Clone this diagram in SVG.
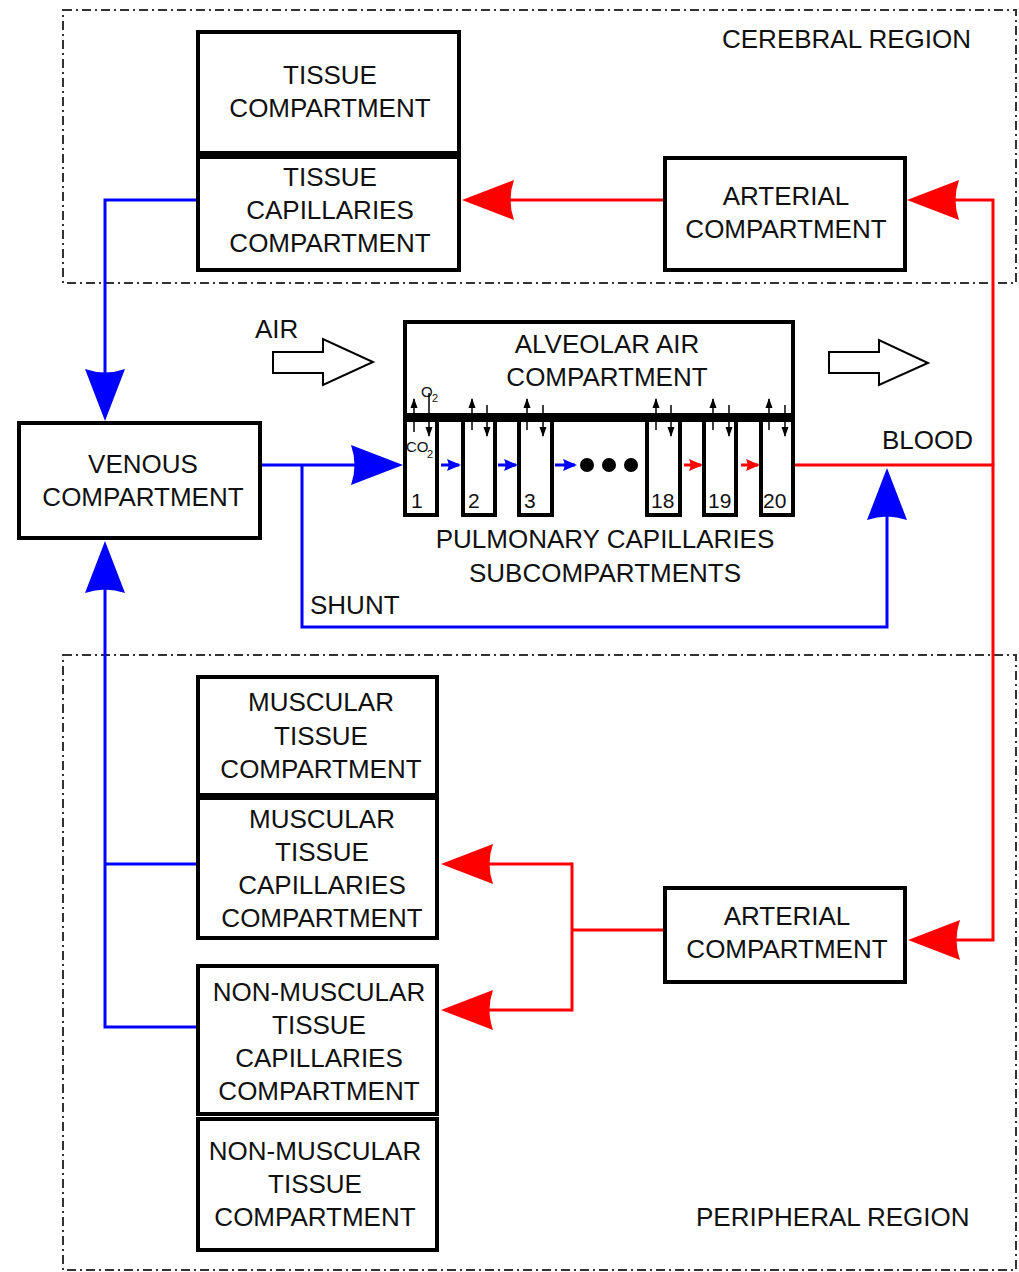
<svg xmlns="http://www.w3.org/2000/svg" width="1019" height="1272" viewBox="0 0 1019 1272">
<style>
.t{font-family:"Liberation Sans",Arial,sans-serif;font-size:26px;fill:#111;text-anchor:middle}
.tl{font-family:"Liberation Sans",Arial,sans-serif;font-size:26px;fill:#111}
.n{font-family:"Liberation Sans",Arial,sans-serif;font-size:21px;fill:#111}
.s{font-family:"Liberation Sans",Arial,sans-serif;font-size:15px;fill:#111}
.ss{font-family:"Liberation Sans",Arial,sans-serif;font-size:11px;fill:#111}
.box{fill:#fff;stroke:#000;stroke-width:4}
.reg{fill:none;stroke:#333;stroke-width:2;stroke-dasharray:9 4 2 4}
.b{fill:none;stroke:#0000ff;stroke-width:3}
.r{fill:none;stroke:#ff0000;stroke-width:3}
.k{fill:none;stroke:#000;stroke-width:1.5}
.open{fill:#fff;stroke:#000;stroke-width:2}
</style>
<defs>
<marker id="ab" markerUnits="userSpaceOnUse" viewBox="-56 -22 80 44" markerWidth="80" markerHeight="44" refX="-20" refY="0" orient="auto"><path d="M0,0 L-52,-20 Q-45,0 -52,20 Z" fill="#0000ff"/></marker>
<marker id="ar" markerUnits="userSpaceOnUse" viewBox="-56 -22 80 44" markerWidth="80" markerHeight="44" refX="-20" refY="0" orient="auto"><path d="M0,0 L-52,-20 Q-45,0 -52,20 Z" fill="#ff0000"/></marker>
<marker id="sb" markerUnits="userSpaceOnUse" viewBox="-16 -8 20 16" markerWidth="20" markerHeight="16" refX="-2" refY="0" orient="auto"><path d="M0,0 L-14,-6 Q-11,0 -14,6 Z" fill="#0000ff"/></marker>
<marker id="sr" markerUnits="userSpaceOnUse" viewBox="-16 -8 20 16" markerWidth="20" markerHeight="16" refX="-2" refY="0" orient="auto"><path d="M0,0 L-14,-6 Q-11,0 -14,6 Z" fill="#ff0000"/></marker>
<marker id="sk" markerUnits="userSpaceOnUse" viewBox="-11 -5 12 10" markerWidth="12" markerHeight="10" refX="-1" refY="0" orient="auto"><path d="M0,0 L-10,-3.5 L-10,3.5 Z" fill="#000"/></marker>
</defs>
<rect width="1019" height="1272" fill="#fff"/>

<g id="cerebral-region">
<rect class="reg" x="63" y="10" width="953" height="273"/>
<text class="tl" x="722" y="48">CEREBRAL REGION</text>
</g>
<g id="peripheral-region">
<rect class="reg" x="63" y="655" width="953" height="615"/>
<text class="tl" x="696" y="1226">PERIPHERAL REGION</text>
</g>

<g id="connectors">
<path class="b" d="M197,200 H105 V401" marker-end="url(#ab)"/>
<path class="b" d="M197,864 H105"/>
<path class="b" d="M197,1027 H105 V561" marker-end="url(#ab)"/>
<path class="b" d="M262,465 H383" marker-end="url(#ab)"/>
<path class="b" d="M302,465 V627 H887 V488" marker-end="url(#ab)"/>
<path class="r" d="M993,465 V200 H927" marker-end="url(#ar)"/>
<path class="r" d="M795,465 H993 V940 H928" marker-end="url(#ar)"/>
<path class="r" d="M664,200 H482" marker-end="url(#ar)"/>
<path class="r" d="M664,930 H572"/>
<path class="r" d="M572,864 H461" marker-end="url(#ar)"/>
<path class="r" d="M572,862.5 V1011.5"/>
<path class="r" d="M572,1010 H461" marker-end="url(#ar)"/>
<path class="b" d="M441,465 H459" marker-end="url(#sb)"/>
<path class="b" d="M498,465 H516" marker-end="url(#sb)"/>
<path class="b" d="M555,465 H575" marker-end="url(#sb)"/>
<path class="r" d="M684,465 H701" marker-end="url(#sr)"/>
<path class="r" d="M741,465 H758" marker-end="url(#sr)"/>
</g>

<g id="tissue-compartment">
<rect class="box" x="198" y="32" width="261" height="121"/>
<text class="t" x="330" y="84">TISSUE</text>
<text class="t" x="330" y="117">COMPARTMENT</text>
</g>
<g id="tissue-capillaries-compartment">
<rect class="box" x="198" y="157" width="261" height="113"/>
<text class="t" x="330" y="186">TISSUE</text>
<text class="t" x="330" y="219">CAPILLARIES</text>
<text class="t" x="330" y="252">COMPARTMENT</text>
</g>
<g id="arterial-compartment-cerebral">
<rect class="box" x="665" y="158" width="240" height="112"/>
<text class="t" x="786" y="205">ARTERIAL</text>
<text class="t" x="786" y="238">COMPARTMENT</text>
</g>

<g id="air-in">
<text class="tl" x="255" y="338">AIR</text>
<path class="open" d="M273,352 H323 V339 L373,362 L323,385 V373 H273 Z"/>
</g>
<g id="air-out">
<path class="open" d="M829,352 H879 V340 L928,363 L879,385 V373 H829 Z"/>
</g>

<g id="alveolar-air-compartment">
<rect class="box" x="405" y="322" width="388" height="94"/>
<rect x="403" y="413" width="392" height="9" fill="#000"/>
<text class="t" x="607" y="353">ALVEOLAR AIR</text>
<text class="t" x="607" y="386">COMPARTMENT</text>
</g>

<g id="venous-compartment">
<rect class="box" x="19" y="423" width="241" height="115"/>
<text class="t" x="143" y="473">VENOUS</text>
<text class="t" x="143" y="506">COMPARTMENT</text>
</g>

<g id="pulmonary-capillaries">
<rect class="box" x="405" y="420" width="32" height="95"/>
<rect class="box" x="463" y="420" width="32" height="95"/>
<rect class="box" x="519" y="420" width="33" height="95"/>
<rect class="box" x="647" y="420" width="33" height="95"/>
<rect class="box" x="704" y="420" width="32" height="95"/>
<rect class="box" x="761" y="420" width="32" height="95"/>
<text class="n" x="411" y="508">1</text>
<text class="n" x="468" y="508">2</text>
<text class="n" x="524" y="508">3</text>
<text class="n" x="651" y="508">18</text>
<text class="n" x="708" y="508">19</text>
<text class="n" x="763" y="508">20</text>
<text class="s" x="421" y="397">O</text>
<text class="ss" x="432" y="402">2</text>
<text class="s" x="406" y="452">CO</text>
<text class="ss" x="427" y="458">2</text>
<circle cx="587" cy="465" r="7" fill="#000"/>
<circle cx="609" cy="465" r="7" fill="#000"/>
<circle cx="631" cy="465" r="7" fill="#000"/>
<text class="t" x="605" y="548">PULMONARY CAPILLARIES</text>
<text class="t" x="605" y="582">SUBCOMPARTMENTS</text>
</g>

<g id="gas-exchange-arrows">
<path class="k" d="M414,432 V399" marker-end="url(#sk)"/>
<path class="k" d="M429,393 V436" marker-end="url(#sk)"/>
<path class="k" d="M472,430 V399" marker-end="url(#sk)"/>
<path class="k" d="M487,405 V436" marker-end="url(#sk)"/>
<path class="k" d="M527,430 V399" marker-end="url(#sk)"/>
<path class="k" d="M543,405 V436" marker-end="url(#sk)"/>
<path class="k" d="M656,430 V399" marker-end="url(#sk)"/>
<path class="k" d="M671,405 V436" marker-end="url(#sk)"/>
<path class="k" d="M713,430 V399" marker-end="url(#sk)"/>
<path class="k" d="M729,405 V436" marker-end="url(#sk)"/>
<path class="k" d="M769,430 V399" marker-end="url(#sk)"/>
<path class="k" d="M785,405 V436" marker-end="url(#sk)"/>
</g>

<g id="labels">
<text class="tl" x="882" y="449">BLOOD</text>
<text class="tl" x="310" y="614">SHUNT</text>
</g>

<g id="muscular-tissue-compartment">
<rect class="box" x="198" y="677" width="239" height="118"/>
<text class="t" x="321" y="711">MUSCULAR</text>
<text class="t" x="321" y="745">TISSUE</text>
<text class="t" x="321" y="778">COMPARTMENT</text>
</g>
<g id="muscular-tissue-capillaries-compartment">
<rect class="box" x="198" y="798" width="239" height="140"/>
<text class="t" x="322" y="828">MUSCULAR</text>
<text class="t" x="322" y="861">TISSUE</text>
<text class="t" x="322" y="894">CAPILLARIES</text>
<text class="t" x="322" y="927">COMPARTMENT</text>
</g>
<g id="non-muscular-tissue-capillaries-compartment">
<rect class="box" x="198" y="966" width="239" height="148"/>
<text class="t" x="319" y="1001">NON-MUSCULAR</text>
<text class="t" x="319" y="1034">TISSUE</text>
<text class="t" x="319" y="1067">CAPILLARIES</text>
<text class="t" x="319" y="1100">COMPARTMENT</text>
</g>
<g id="non-muscular-tissue-compartment">
<rect class="box" x="198" y="1119" width="239" height="131"/>
<text class="t" x="315" y="1160">NON-MUSCULAR</text>
<text class="t" x="315" y="1193">TISSUE</text>
<text class="t" x="315" y="1226">COMPARTMENT</text>
</g>
<g id="arterial-compartment-peripheral">
<rect class="box" x="665" y="888" width="240" height="94"/>
<text class="t" x="787" y="925">ARTERIAL</text>
<text class="t" x="787" y="958">COMPARTMENT</text>
</g>
</svg>
